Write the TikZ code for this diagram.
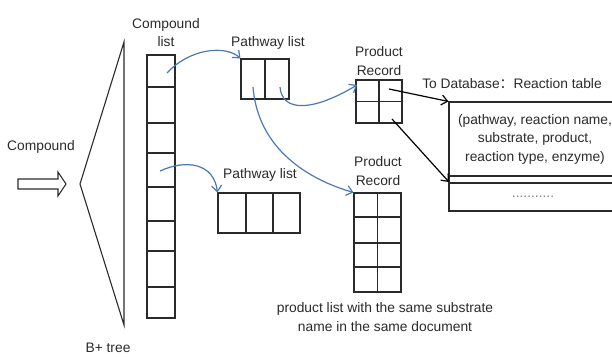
\documentclass[tikz,border=0pt]{standalone}
\usepackage{fontspec}
\setmainfont{Liberation Sans}
\newfontfamily\cjk{Noto Sans CJK SC}
\usetikzlibrary{arrows.meta}
\definecolor{linkblue}{HTML}{4A78B8}
\definecolor{inkgray}{HTML}{2A2A2A}
\begin{document}
\begin{tikzpicture}[x=1pt,y=-1pt,
  lbl/.style={font=\fontsize{13.8}{18.5}\selectfont, align=center, inner sep=0pt, text=inkgray},
  box/.style={draw=inkgray, line width=1.1pt, inner sep=0pt},
  cellline/.style={draw=inkgray, line width=1.1pt},
  link/.style={draw=linkblue, line width=1.2pt, -{Straight Barb[length=6pt,width=10pt]}},
  feed/.style={draw=black, line width=1.2pt, -{Straight Barb[length=6pt,width=10pt]}}]
\useasboundingbox (0,0) rectangle (612,356);
\clip (0,0) rectangle (612,356);

% input arrow and B+ tree outline
\draw[cellline] (18,179) -- (58,179) -- (58,172) -- (66,184) -- (58,196) -- (58,189) -- (18,189) -- cycle;
\draw[cellline] (124,42) -- (80,184) -- (124,325) -- cycle;
\node[lbl] (inlbl) at (41,147) {Compound};
\node[lbl] (treelbl) at (108,348) {B+ tree};

% compound list
\node[box, minimum width=28pt, minimum height=263pt] (clist) at (161,186.5) {};
\foreach \yy in {87,123,153,187,221,251,287}
  \draw[cellline] (147,\yy) -- (175,\yy);
\node[lbl] (clistlbl) at (166,32.5) {Compound\\list};

% pathway lists
\node[box, minimum width=48pt, minimum height=40pt] (pw1) at (265,79) {};
\draw[cellline] (pw1.north) -- (pw1.south);
\node[lbl] (pw1lbl) at (268,43) {Pathway list};

\node[box, minimum width=82pt, minimum height=40pt] (pw2) at (259,213) {};
\draw[cellline] (246,193) -- (246,233);
\draw[cellline] (273,193) -- (273,233);
\node[lbl] (pw2lbl) at (260,175) {Pathway list};

% product records
\node[box, minimum width=46pt, minimum height=43pt] (pr1) at (379,101.5) {};
\draw[cellline] (pr1.north) -- (pr1.south);
\draw[cellline] (pr1.west) -- (pr1.east);
\node[lbl] (pr1lbl) at (379,61) {Product\\Record};

\node[box, minimum width=47pt, minimum height=99pt] (pr2) at (377.5,242.5) {};
\draw[cellline] (pr2.north) -- (pr2.south);
\foreach \yy in {217,243,267}
  \draw[cellline] (354,\yy) -- (401,\yy);
\node[lbl] (pr2lbl) at (378,171) {Product\\Record};
\node[lbl] (pr2note) at (385,317) {product list with the same substrate\\name in the same document};

% reaction table (runs past the right edge)
\node[box, minimum width=200pt, minimum height=109pt] (rtab) at (549,156.5) {};
\draw[cellline] (449,176) -- (650,176);
\draw[cellline] (449,183) -- (650,183);
\node[lbl] (rtabtxt) at (535,139) {(pathway, reaction name,\\substrate, product,\\reaction type, enzyme)};
\node[lbl, text=gray] (rtabmore) at (533,197) {...........};
\node[lbl] (rtablbl) at (512,84) {To Database{\cjk ：}Reaction table};
\coordinate (rowtwo) at (449,182);

% pointers between lists
\coordinate (c1) at (167,73);
\coordinate (c5) at (160,171);
\coordinate (p1a) at (253,87);
\coordinate (p1b) at (280,87);
\coordinate (r1a) at (389,89);
\coordinate (r1b) at (392,119);

\draw[link] (c1) .. controls (190,48) and (226,45) .. (pw1.north west);
\draw[link] (c5) .. controls (186,159) and (214,163) .. (pw2.north west);
\draw[link] (p1b) .. controls (282,112) and (312,112) .. (357,85);
\draw[link] (p1a) .. controls (258,150) and (310,180) .. (pr2.north west);

\draw[feed] (r1a) -- (rtab.north west);
\draw[feed] (r1b) -- (rowtwo);
\end{tikzpicture}
\end{document}
